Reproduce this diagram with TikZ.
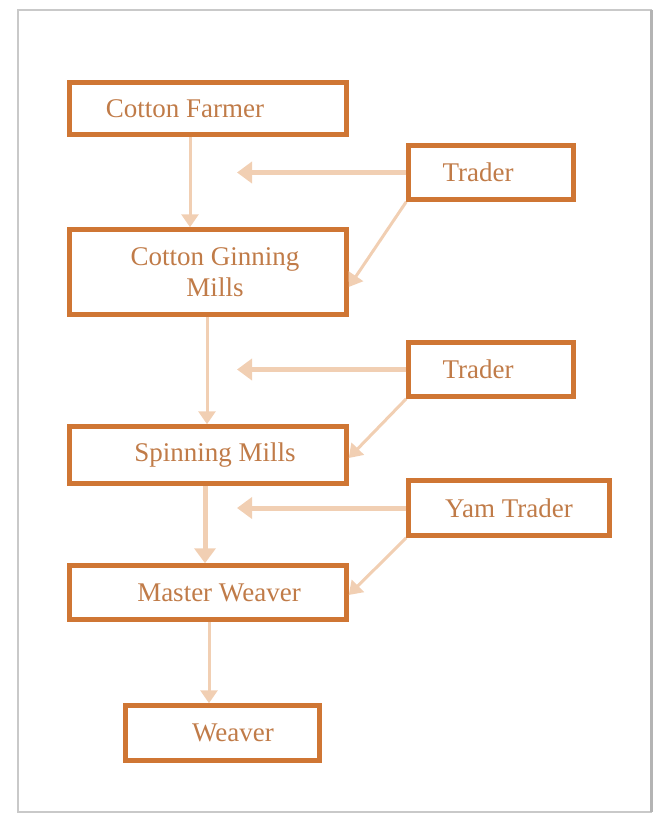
\documentclass[tikz,border=0pt]{standalone}
\usepackage{fontspec}
\setmainfont{Liberation Serif}
\usetikzlibrary{arrows.meta}
\definecolor{boxline}{HTML}{CF7634}
\definecolor{boxtext}{HTML}{C07B48}
\definecolor{flow}{HTML}{F1CFB3}
\definecolor{frame}{HTML}{C9C9C9}
\begin{document}
\begin{tikzpicture}[
				x=1pt, y=-1pt,
				stage/.style={draw=boxline, line width=4.5pt, rectangle, text=boxtext, align=center,
					font=\fontsize{27}{31}\selectfont, inner sep=0pt, minimum width=277pt},
				dealer/.style={stage, minimum width=165pt, minimum height=54pt},
				vflow/.style={draw=flow, line width=3pt, -{Triangle[width=17pt, length=13pt]}},
				hflow/.style={draw=flow, line width=5pt, -{Triangle[width=21pt, length=15pt]}}
				]
				\useasboundingbox (0,0) rectangle (656,814);
				\draw[frame, line width=1.5pt] (18,10) rectangle (651,812);
				\draw[frame!140, line width=3pt] (651,10) -- (651,812);
				\node[stage, minimum height=52pt] (farmer) at (208,108.5) {Cotton Farmer\hspace*{46pt}};
				\node[stage, minimum height=85pt] (ginning) at (208,272) {\hspace*{14pt}Cotton Ginning\\\hspace*{14pt}Mills};
				\node[stage, minimum height=57pt] (spinning) at (208,455) {\hspace*{14pt}Spinning Mills};
				\node[stage, minimum height=54pt] (master) at (208,592.5) {\hspace*{22pt}Master Weaver};
				\node[stage, minimum width=194pt, minimum height=55pt] (weaver) at (222.5,733) {\hspace*{21pt}Weaver};
				\node[dealer] (trader1) at (491,172.5) {Trader\hspace*{26pt}};
				\node[dealer] (trader2) at (491,369.5) {Trader\hspace*{26pt}};
				\node[dealer, minimum width=201pt, minimum height=55pt] (yarn) at (509,508) {Yam Trader};
				\coordinate (stop1) at (237,172.5);
				\coordinate (stop2) at (237,369.5);
				\coordinate (stop3) at (237,508);
				\draw[vflow] ([xshift=-18pt]farmer.south) -- ([xshift=-18pt]ginning.north);
				\draw[vflow] ([xshift=-1pt]ginning.south) -- ([xshift=-1pt]spinning.north);
				\draw[hflow] ([xshift=-3pt]spinning.south) -- ([xshift=-3pt]master.north);
				\draw[vflow] ([xshift=1pt]master.south) -- ([xshift=-13.5pt]weaver.north);
				\draw[hflow] (trader1.west) -- (stop1);
				\draw[hflow] (trader2.west) -- (stop2);
				\draw[hflow] (yarn.west) -- (stop3);
				\draw[vflow] (trader1.south west) -- ([yshift=-15pt]ginning.east);
				\draw[vflow] (trader2.south west) -- ([yshift=-3pt]spinning.east);
				\draw[vflow] (yarn.south west) -- ([yshift=-2.5pt]master.east);
			\end{tikzpicture}
\end{document}
